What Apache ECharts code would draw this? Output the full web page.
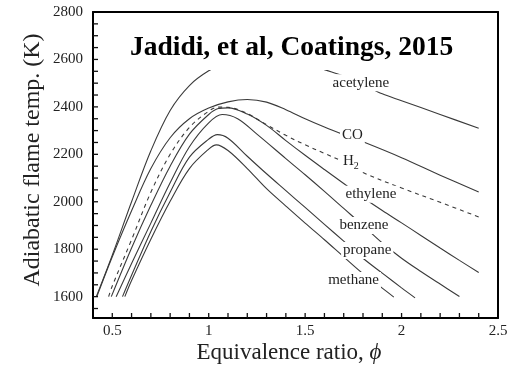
<!DOCTYPE html>
<html>
<head>
<meta charset="utf-8">
<script src="https://cdn.jsdelivr.net/npm/echarts@6/dist/echarts.min.js"></script>
<style>
html,body{margin:0;padding:0;background:#fff;}
#chart{width:514px;height:368px;background:#fff;}
</style>
</head>
<body>
<div id="chart"></div>
<script>
// ---- data (equivalence ratio phi, adiabatic flame temperature K) ----
const acetylene = [[0.417,1600],[0.5,1775],[0.6,2000],[0.7,2215],[0.8,2385],[0.9,2490],[1.0,2552],[1.1,2590],[1.2,2607],[1.3,2612],[1.4,2603],[1.5,2585],[1.6,2557],[1.7,2530],[1.8,2494],[1.9,2455],[2.0,2426],[2.2,2368],[2.4,2310]];
const co = [[0.42,1600],[0.5,1768],[0.6,1962],[0.7,2140],[0.8,2270],[0.9,2350],[1.0,2395],[1.1,2421],[1.2,2431],[1.3,2420],[1.4,2388],[1.5,2350],[1.6,2315],[1.7,2283],[1.8,2253],[2.0,2186],[2.2,2112],[2.4,2041]];
const h2 = [[0.481,1600],[0.5,1645],[0.6,1840],[0.7,2040],[0.8,2200],[0.9,2313],[1.0,2382],[1.05,2399],[1.1,2398],[1.2,2372],[1.3,2325],[1.4,2280],[1.5,2240],[1.6,2204],[1.7,2168],[1.8,2123],[2.0,2058],[2.2,1998],[2.4,1936]];
const ethylene = [[0.495,1600],[0.6,1805],[0.7,1985],[0.8,2150],[0.9,2285],[1.0,2368],[1.05,2393],[1.1,2396],[1.2,2370],[1.3,2322],[1.4,2258],[1.5,2196],[1.6,2136],[1.7,2077],[1.8,2018],[1.9,1963],[2.0,1911],[2.1,1858],[2.2,1805],[2.3,1753],[2.4,1702]];
const benzene = [[0.52,1600],[0.6,1740],[0.7,1910],[0.8,2080],[0.9,2232],[1.0,2333],[1.07,2368],[1.15,2350],[1.25,2285],[1.4,2182],[1.5,2114],[1.6,2044],[1.7,1972],[1.8,1900],[1.9,1826],[2.0,1762],[2.1,1706],[2.2,1653],[2.3,1601]];
const propane = [[0.553,1600],[0.6,1690],[0.7,1875],[0.8,2040],[0.9,2188],[1.0,2264],[1.045,2283],[1.1,2268],[1.2,2192],[1.3,2118],[1.4,2047],[1.5,1976],[1.6,1905],[1.7,1834],[1.8,1762],[1.9,1699],[2.0,1637],[2.07,1595]];
const methane = [[0.565,1600],[0.6,1668],[0.7,1842],[0.8,2002],[0.9,2140],[1.0,2222],[1.04,2240],[1.1,2216],[1.2,2140],[1.3,2055],[1.4,1982],[1.5,1910],[1.6,1840],[1.7,1768],[1.8,1697],[1.9,1636],[1.96,1598]];

// curve label anchor points (data coords)
const labelNames = ['acetylene','CO','H2','ethylene','benzene','propane','methane'];
const labelCoords = [[1.789,2502],[1.745,2282],[1.737,2163],[1.841,2032],[1.805,1900],[1.822,1795],[1.751,1668]];

// axis tick labels and tick positions
const xLabelValues = [0.5,1,1.5,2,2.5];
const xTickValues = [0.5,0.6,0.7,0.8,0.9,1,1.1,1.2,1.3,1.4,1.5,1.6,1.7,1.8,1.9,2,2.1,2.2,2.3,2.4];
const yLabelValues = [1600,1800,2000,2200,2400,2600,2800];
const yTickValues = [1550,1600,1650,1700,1750,1800,1850,1900,1950,2000,2050,2100,2150,2200,2250,2300,2350,2400,2450,2500,2550,2600,2650,2700,2750];

const titleText = 'Jadidi, et al, Coatings, 2015';
const xNameMain = 'Equivalence ratio, ';
const xNameSym = 'ϕ';
const yName = 'Adiabatic flame temp. (K)';

const SERIF = 'Liberation Serif, Times New Roman, serif';
const LINE_COLOR = '#3a3a3a';
const X_MIN = 0.4, X_MAX = 2.5, Y_MIN = 1510, Y_MAX = 2800;

const seriesData = [acetylene, co, h2, ethylene, benzene, propane, methane];

const chart = echarts.init(document.getElementById('chart'), null, {renderer:'canvas'});

function makeSeries(data, idx) {
  const name = labelNames[idx];
  const isH2 = name === 'H2';
  return {
    type: 'line',
    name: name,
    data: data,
    xAxisIndex: 0,
    yAxisIndex: 0,
    smooth: 0.35,
    showSymbol: false,
    symbol: 'none',
    silent: true,
    lineStyle: {color: LINE_COLOR, width: 1.1, type: isH2 ? [4, 4] : 'solid'},
    markPoint: {
      symbol: 'circle',
      symbolSize: 1,
      itemStyle: {color: 'rgba(0,0,0,0)'},
      silent: true,
      animation: false,
      data: [{
        coord: labelCoords[idx],
        label: {
          show: true,
          position: 'inside',
          formatter: isH2 ? '{h|H}{s|2}' : name,
          backgroundColor: '#fff',
          padding: [1, 2],
          color: '#222',
          fontFamily: SERIF,
          fontSize: 15,
          rich: isH2 ? {
            h: {fontFamily: SERIF, fontSize: 15, color: '#222', padding: [0,0,5,0]},
            s: {fontFamily: SERIF, fontSize: 10, color: '#222', padding: [7,0,0,0]}
          } : undefined
        }
      }]
    }
  };
}

// inward tick marks, positioned through the axes' own scales (api.coord)
function tickSeries(values, horizontal) {
  return {
    type: 'custom',
    silent: true,
    clip: false,
    z: 4,
    xAxisIndex: 0,
    yAxisIndex: 0,
    data: values.map(function (v) { return horizontal ? [v, Y_MIN] : [X_MIN, v]; }),
    renderItem: function (params, api) {
      const p = api.coord([api.value(0), api.value(1)]);
      const len = 5;
      return {
        type: 'line',
        shape: horizontal
          ? {x1: p[0], y1: p[1], x2: p[0], y2: p[1] - len}
          : {x1: p[0], y1: p[1], x2: p[0] + len, y2: p[1]},
        style: {stroke: '#111', lineWidth: 1.3}
      };
    }
  };
}

const option = {
  animation: false,
  title: {
    text: titleText,
    left: 124,
    top: 28,
    padding: [6, 6, 8, 6],
    backgroundColor: '#fff',
    textStyle: {fontFamily: SERIF, fontWeight: 'bold', fontSize: 27.5, color: '#000'}
  },
  grid: {left: 93, right: 16, top: 12, bottom: 50, outerBoundsMode: 'none'},
  graphic: [
    {
      type: 'text',
      x: 33, y: 160,
      rotation: Math.PI / 2,
      silent: true,
      style: {text: yName, font: '24px ' + SERIF, fill: '#222', align: 'center', verticalAlign: 'middle'}
    },
    {
      type: 'text',
      x: 289, y: 353,
      silent: true,
      style: {
        text: '{n|' + xNameMain + '}{i|' + xNameSym + '}',
        align: 'center', verticalAlign: 'middle',
        rich: {
          n: {fontFamily: SERIF, fontSize: 23, fill: '#222', color: '#222'},
          i: {fontFamily: SERIF, fontSize: 23, fontStyle: 'italic', fill: '#222', color: '#222'}
        }
      }
    }
  ],
  xAxis: [{
    type: 'value',
    position: 'bottom',
    min: X_MIN,
    max: X_MAX,
    axisLine: {show: true, onZero: false, lineStyle: {color: '#000', width: 2}},
    axisTick: {show: false},
    axisLabel: {
      customValues: xLabelValues,
      fontFamily: SERIF, fontSize: 15, color: '#222', margin: 6
    },
    splitLine: {show: false}
  }, {
    type: 'value',
    position: 'top',
    min: X_MIN,
    max: X_MAX,
    axisLine: {show: true, onZero: false, lineStyle: {color: '#000', width: 2}},
    axisTick: {show: false},
    axisLabel: {show: false},
    splitLine: {show: false}
  }],
  yAxis: [{
    type: 'value',
    position: 'left',
    min: Y_MIN,
    max: Y_MAX,
    axisLine: {show: true, onZero: false, lineStyle: {color: '#000', width: 2}},
    axisTick: {show: false},
    axisLabel: {customValues: yLabelValues, fontFamily: SERIF, fontSize: 15, color: '#222', margin: 10,
      formatter: function (v) { return String(Math.round(v)); }},
    splitLine: {show: false}
  }, {
    type: 'value',
    position: 'right',
    min: Y_MIN,
    max: Y_MAX,
    axisLine: {show: true, onZero: false, lineStyle: {color: '#000', width: 2}},
    axisTick: {show: false},
    axisLabel: {show: false},
    splitLine: {show: false}
  }],
  series: seriesData.map(makeSeries).concat([tickSeries(xTickValues, true), tickSeries(yTickValues, false)])
};

chart.setOption(option);
</script>
</body>
</html>
